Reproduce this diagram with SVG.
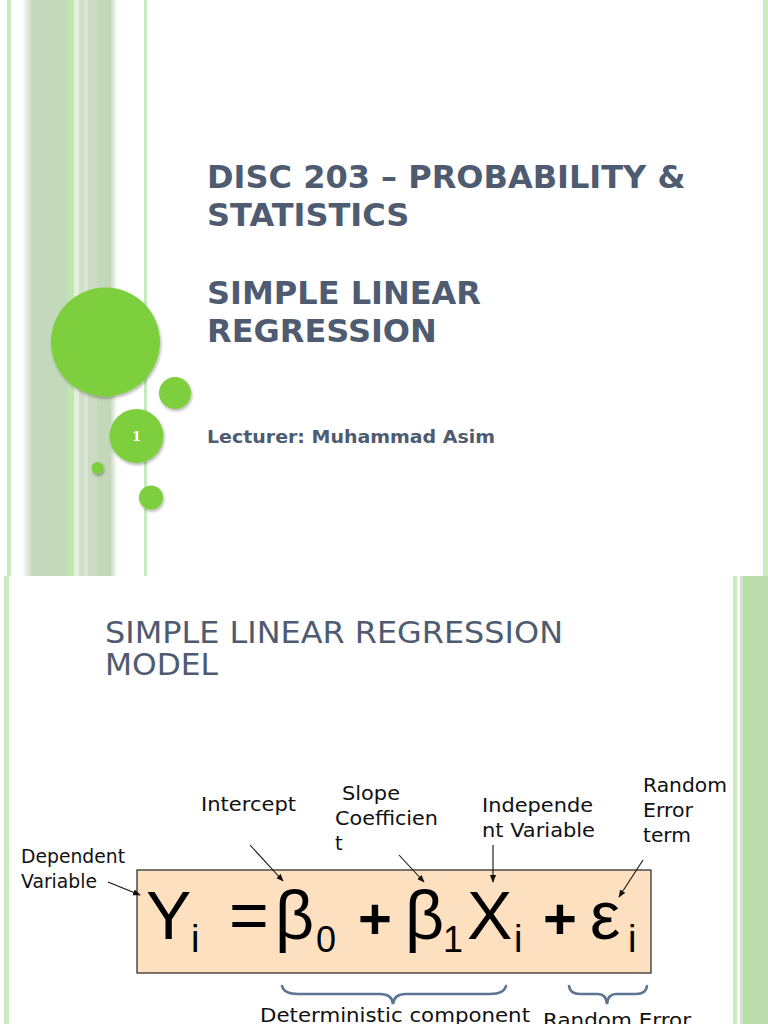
<svg xmlns="http://www.w3.org/2000/svg" width="768" height="1024" viewBox="0 0 768 1024">
<defs>
<style>
.t{font-family:"DejaVu Sans",sans-serif;fill:#4e5b70}
.tb{font-family:"DejaVu Sans",sans-serif;font-weight:bold;fill:#4e5b70}
.lb{font-family:"DejaVu Sans",sans-serif;font-size:19.5px;fill:#111}
.eq{font-family:"Liberation Sans","Open Sans",sans-serif;fill:#000}
.circ{fill:#7ecf3e;filter:url(#sh)}
.arr{stroke:#111;stroke-width:1.1;fill:none;marker-end:url(#ah)}
.brace{stroke:#5d7595;stroke-width:2.6;fill:none;stroke-linecap:round}
</style>
<linearGradient id="fadeL" x1="0" x2="1" y1="0" y2="0">
<stop offset="0" stop-color="#ffffff"/><stop offset="1" stop-color="#c9d6c3"/>
</linearGradient>
<linearGradient id="fadeR" x1="0" x2="1" y1="0" y2="0">
<stop offset="0" stop-color="#c4d5bc"/><stop offset="1" stop-color="#ffffff"/>
</linearGradient>
<filter id="sh" x="-30%" y="-30%" width="160%" height="160%">
<feGaussianBlur in="SourceAlpha" stdDeviation="1.5"/>
<feOffset dx="1" dy="2" result="b"/>
<feComponentTransfer><feFuncA type="linear" slope="0.3"/></feComponentTransfer>
<feMerge><feMergeNode/><feMergeNode in="SourceGraphic"/></feMerge>
</filter>
<marker id="ah" viewBox="0 0 10 10" refX="9" refY="5" markerWidth="7" markerHeight="7" orient="auto">
<path d="M0,1 L10,5 L0,9 z" fill="#111"/>
</marker>
</defs>
<rect width="768" height="1024" fill="#ffffff"/>

<!-- top slide decorations -->
<g id="top-stripes">
<rect x="7" y="0" width="4" height="576" fill="#c8eabd"/>
<rect x="22" y="0" width="10" height="576" fill="url(#fadeL)"/>
<rect x="32" y="0" width="36" height="576" fill="#c4d9bc"/>
<rect x="68" y="0" width="6" height="576" fill="#c2e6b2"/>
<rect x="74" y="0" width="5" height="576" fill="#e4efdd"/>
<rect x="79" y="0" width="5" height="576" fill="#d0dfc8"/>
<rect x="84" y="0" width="4" height="576" fill="#dce6d6"/>
<rect x="88" y="0" width="9" height="576" fill="#ccdcc4"/>
<rect x="97" y="0" width="13" height="576" fill="#c2d8b8"/>
<rect x="110" y="0" width="7" height="576" fill="url(#fadeR)"/>
<rect x="144" y="0" width="3" height="576" fill="#c8eabd"/>
<rect x="763" y="0" width="5" height="576" fill="#cdeac0"/>
</g>
<g id="circles">
<circle class="circ" cx="105.5" cy="342" r="54.5"/>
<circle class="circ" cx="175" cy="393" r="16"/>
<circle class="circ" cx="136.5" cy="436" r="27"/>
<circle class="circ" cx="97.5" cy="468" r="6"/>
<circle class="circ" cx="151" cy="497.5" r="12"/>
<text x="136.5" y="441" text-anchor="middle" font-family="'DejaVu Serif',serif" font-weight="bold" font-size="13" fill="#ffffff">1</text>
</g>
<g id="title">
<text class="tb" font-size="32" x="207" y="188">DISC 203 – PROBABILITY &amp;</text>
<text class="tb" font-size="32" x="207" y="226">STATISTICS</text>
<text class="tb" font-size="32" x="207" y="304">SIMPLE LINEAR</text>
<text class="tb" font-size="32" x="207" y="342">REGRESSION</text>
<text class="tb" font-size="18.5" x="207" y="443" textLength="288" lengthAdjust="spacingAndGlyphs">Lecturer: Muhammad Asim</text>
</g>

<!-- bottom slide -->
<g id="bottom-stripes">
<rect x="4" y="576" width="5" height="448" fill="#c8eabd"/>
<rect x="733" y="576" width="4" height="448" fill="#c8eabd"/>
<rect x="740" y="576" width="3" height="448" fill="#d6e0d2"/>
<rect x="743" y="576" width="7" height="448" fill="#b6e0a6"/>
<rect x="750" y="576" width="18" height="448" fill="#bcdcae"/>
</g>
<g id="slide2-title">
<text class="t" font-size="30" x="105" y="643" textLength="458" lengthAdjust="spacingAndGlyphs">SIMPLE LINEAR REGRESSION</text>
<text class="t" font-size="30" x="105" y="675" textLength="113" lengthAdjust="spacingAndGlyphs">MODEL</text>
</g>

<g id="equation">
<rect x="137" y="870" width="514" height="103" fill="#fde0bf" stroke="#222" stroke-width="1.2"/>
<text class="eq" font-size="68" x="146" y="939">Y</text>
<text class="eq" font-size="38" x="191" y="952">i</text>
<text class="eq" font-size="68" x="229" y="939">=</text>
<text class="eq" font-size="68" x="275" y="939">β</text>
<text class="eq" font-size="36" x="316" y="952">0</text>
<text class="eq" font-size="58" font-weight="bold" x="358" y="939">+</text>
<text class="eq" font-size="68" x="405" y="939">β</text>
<text class="eq" font-size="36" x="443" y="952">1</text>
<text class="eq" font-size="68" x="467" y="939">X</text>
<text class="eq" font-size="38" x="514" y="952">i</text>
<text class="eq" font-size="58" font-weight="bold" x="543" y="939">+</text>
<text class="eq" font-size="68" x="590" y="939">ε</text>
<text class="eq" font-size="38" x="628" y="952">i</text>
</g>

<g id="label-dependent">
<text class="lb" x="21" y="863" textLength="104" lengthAdjust="spacingAndGlyphs">Dependent</text>
<text class="lb" x="21" y="888" textLength="76" lengthAdjust="spacingAndGlyphs">Variable</text>
</g>
<g id="label-intercept">
<text class="lb" x="201" y="811" textLength="95" lengthAdjust="spacingAndGlyphs">Intercept</text>
</g>
<g id="label-slope">
<text class="lb" x="342" y="800" textLength="58" lengthAdjust="spacingAndGlyphs">Slope</text>
<text class="lb" x="335" y="825" textLength="103" lengthAdjust="spacingAndGlyphs">Coefficien</text>
<text class="lb" x="335" y="850">t</text>
</g>
<g id="label-independent">
<text class="lb" x="482" y="812" textLength="111" lengthAdjust="spacingAndGlyphs">Independe</text>
<text class="lb" x="482" y="837" textLength="113" lengthAdjust="spacingAndGlyphs">nt Variable</text>
</g>
<g id="label-random">
<text class="lb" x="643" y="792" textLength="84" lengthAdjust="spacingAndGlyphs">Random</text>
<text class="lb" x="643" y="817" textLength="50" lengthAdjust="spacingAndGlyphs">Error</text>
<text class="lb" x="643" y="842" textLength="48" lengthAdjust="spacingAndGlyphs">term</text>
</g>

<g id="connectors">
<line class="arr" x1="108" y1="882" x2="140" y2="895"/>
<line class="arr" x1="250" y1="845" x2="283" y2="881"/>
<line class="arr" x1="399" y1="855" x2="424" y2="882"/>
<line class="arr" x1="493" y1="845" x2="493" y2="882"/>
<line class="arr" x1="643" y1="860" x2="619" y2="897"/>
</g>

<g id="braces">
<path class="brace" d="M282,986 Q284,994 298,994 L380,994 Q392,994 393,1004 Q394,994 406,994 L490,994 Q504,994 506,986"/>
<path class="brace" d="M569,986 Q570,994 580,994 L598,994 Q606,994 607,1004 Q608,994 616,994 L636,994 Q646,994 647,986"/>
</g>
<g id="label-deterministic">
<text class="lb" x="260" y="1022" font-size="20" textLength="270" lengthAdjust="spacingAndGlyphs">Deterministic component</text>
</g>
<g id="label-random-error">
<text class="lb" x="543" y="1027" font-size="20" textLength="148" lengthAdjust="spacingAndGlyphs">Random Error</text>
</g>
</svg>
